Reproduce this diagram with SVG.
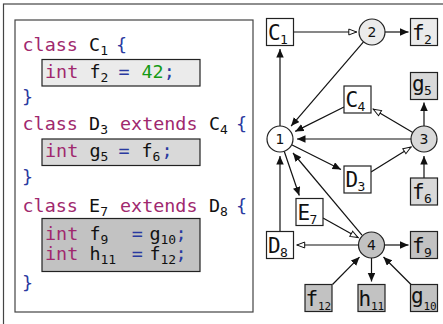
<svg xmlns="http://www.w3.org/2000/svg" width="443" height="324" viewBox="0 0 443 324">
<style>
.code{font-family:"DejaVu Sans Mono","Liberation Mono",monospace;font-size:18.4px;fill:#111}
.kw{fill:#a0286e}
.bl{fill:#2a3aa0}
.gr{fill:#159a15}
.sub{font-size:13px}
.frame{fill:none;stroke:#444;stroke-width:1.2}
.hl1{fill:#ebebeb;stroke:#222;stroke-width:1.2}
.hl2{fill:#d9d9d9;stroke:#222;stroke-width:1.2}
.hl3{fill:#c2c2c2;stroke:#222;stroke-width:1.2}
.box{stroke:#222;stroke-width:1.2}
.w{fill:#fff}
.lbl{font-family:"DejaVu Sans Mono","Liberation Mono",monospace;font-size:21px;fill:#111}
.lsub{font-size:13px}
.lsub2{font-size:11px}
.num{font-family:"DejaVu Sans","Liberation Sans",sans-serif;font-size:14px;fill:#111;text-anchor:middle}
.e{fill:none;stroke:#111;stroke-width:1.2}
.f{marker-end:url(#fa)}
.o{marker-end:url(#oa)}
</style>
<defs>
<marker id="fa" markerUnits="userSpaceOnUse" markerWidth="9" markerHeight="8" refX="8.5" refY="3.75" orient="auto">
<path d="M0,0 L8.5,3.75 L0,7.5 z" fill="#111"/>
</marker>
<marker id="oa" markerUnits="userSpaceOnUse" markerWidth="10" markerHeight="8" refX="9" refY="3.75" orient="auto">
<path d="M0.8,0.8 L8.6,3.75 L0.8,6.7 z" fill="#fff" stroke="#111" stroke-width="1"/>
</marker>
</defs>
<rect x="0" y="0" width="443" height="324" fill="#fff"/>
<rect class="frame" x="3.5" y="4" width="470" height="340" stroke="#555"/>

<g id="code">
<rect class="frame" x="15" y="20" width="238" height="292" stroke="#333"/>
<rect class="hl1" x="42" y="59.5" width="158" height="26.5"/>
<rect class="hl2" x="42" y="139" width="158" height="26.5"/>
<rect class="hl3" x="42" y="218.5" width="158" height="53"/>
<text class="code"><tspan class="kw" x="22.5" y="51">class</tspan><tspan x="89.1" y="51">C</tspan><tspan class="sub" x="100.2" y="55">1</tspan><tspan class="bl" x="116" y="51">{</tspan></text>
<text class="code"><tspan class="kw" x="45" y="77.5">int</tspan><tspan x="89.4" y="77.5">f</tspan><tspan class="sub" x="100.5" y="81.5">2</tspan><tspan class="bl" x="118.5" y="77.5">=</tspan><tspan class="gr" x="141.5" y="77.5">42</tspan><tspan class="bl" x="163.7" y="77.5">;</tspan></text>
<text class="code"><tspan class="bl" x="22" y="103">}</tspan></text>
<text class="code"><tspan class="kw" x="22.5" y="130">class</tspan><tspan x="89.1" y="130">D</tspan><tspan class="sub" x="100.2" y="134">3</tspan><tspan class="kw" x="120" y="130">extends</tspan><tspan x="209" y="130">C</tspan><tspan class="sub" x="220.1" y="134">4</tspan><tspan class="bl" x="236" y="130">{</tspan></text>
<text class="code"><tspan class="kw" x="45" y="157">int</tspan><tspan x="89.4" y="157">g</tspan><tspan class="sub" x="100.5" y="161">5</tspan><tspan class="bl" x="118.5" y="157">=</tspan><tspan x="141.5" y="157">f</tspan><tspan class="sub" x="152.6" y="161">6</tspan><tspan class="bl" x="161.5" y="157">;</tspan></text>
<text class="code"><tspan class="bl" x="22" y="183">}</tspan></text>
<text class="code"><tspan class="kw" x="22.5" y="211.5">class</tspan><tspan x="89.1" y="211.5">E</tspan><tspan class="sub" x="100.2" y="215.5">7</tspan><tspan class="kw" x="120" y="211.5">extends</tspan><tspan x="209" y="211.5">D</tspan><tspan class="sub" x="220.1" y="215.5">8</tspan><tspan class="bl" x="236" y="211.5">{</tspan></text>
<text class="code"><tspan class="kw" x="45" y="240">int</tspan><tspan x="89.4" y="240">f</tspan><tspan class="sub" x="100.5" y="244">9</tspan><tspan class="bl" x="131.8" y="240">=</tspan><tspan x="149.4" y="240">g</tspan><tspan class="sub" x="160.5" y="244">10</tspan><tspan class="bl" x="175.5" y="240">;</tspan></text>
<text class="code"><tspan class="kw" x="45" y="260">int</tspan><tspan x="89.4" y="260">h</tspan><tspan class="sub" x="100.5" y="264">11</tspan><tspan class="bl" x="131.8" y="260">=</tspan><tspan x="149.4" y="260">f</tspan><tspan class="sub" x="160.5" y="264">12</tspan><tspan class="bl" x="175.5" y="260">;</tspan></text>
<text class="code"><tspan class="bl" x="22" y="289">}</tspan></text>
</g>

<g id="connectors">
<line class="e o" x1="294" y1="32" x2="357" y2="32"/>
<line class="e f" x1="385" y1="32" x2="408.5" y2="32"/>
<line class="e f" x1="363.5" y1="41.9" x2="291.1" y2="126.1"/>
<line class="e f" x1="280" y1="126" x2="280" y2="49"/>
<line class="e f" x1="344" y1="107" x2="295.2" y2="131.4"/>
<line class="e o" x1="412.8" y1="132.4" x2="373" y2="109"/>
<line class="e f" x1="411" y1="139" x2="297" y2="139"/>
<line class="e f" x1="424" y1="126" x2="424" y2="102.5"/>
<line class="e f" x1="424" y1="178" x2="424" y2="156"/>
<line class="e o" x1="371" y1="172" x2="411.3" y2="146.9"/>
<line class="e f" x1="291.6" y1="144.8" x2="341" y2="169.5"/>
<line class="e f" x1="284.2" y1="151.3" x2="299.3" y2="195.5"/>
<line class="e f" x1="362" y1="235.2" x2="293" y2="153"/>
<line class="e o" x1="323" y1="218" x2="358.4" y2="237.8"/>
<line class="e o" x1="358.5" y1="245" x2="296.5" y2="245"/>
<line class="e f" x1="280" y1="231.5" x2="280" y2="156"/>
<line class="e f" x1="384.5" y1="245" x2="408.5" y2="245"/>
<line class="e f" x1="332.5" y1="284.5" x2="359.5" y2="257.1"/>
<line class="e f" x1="371.5" y1="258" x2="371.5" y2="281.5"/>
<line class="e f" x1="411" y1="284.5" x2="383.5" y2="257"/>
</g>

<g id="n1"><circle class="box w" cx="280" cy="139" r="13"/><text class="num" x="280" y="144">1</text></g>
<g id="n2"><circle class="hl1" cx="372" cy="32" r="13"/><text class="num" x="372" y="37">2</text></g>
<g id="n3"><circle class="hl2" cx="424" cy="139" r="13"/><text class="num" x="424" y="144">3</text></g>
<g id="n4"><circle class="hl3" cx="371.5" cy="245" r="13"/><text class="num" x="371.5" y="250">4</text></g>

<g id="C1"><rect class="box w" x="266.5" y="18.5" width="27" height="27"/><text class="lbl"><tspan x="268" y="39.5">C</tspan><tspan class="lsub" x="280" y="43.5">1</tspan></text></g>
<g id="f2"><rect class="hl1" x="410.5" y="18.5" width="27" height="27"/><text class="lbl"><tspan x="412" y="39.5">f</tspan><tspan class="lsub" x="424" y="43.5">2</tspan></text></g>
<g id="C4"><rect class="box w" x="344" y="86" width="27" height="27"/><text class="lbl"><tspan x="345.5" y="107">C</tspan><tspan class="lsub" x="357.5" y="111">4</tspan></text></g>
<g id="g5"><rect class="hl2" x="410.5" y="72.5" width="27" height="27"/><text class="lbl"><tspan x="412" y="91">g</tspan><tspan class="lsub" x="424" y="95">5</tspan></text></g>
<g id="D3"><rect class="box w" x="344" y="166" width="27" height="27"/><text class="lbl"><tspan x="345.5" y="187">D</tspan><tspan class="lsub" x="357.5" y="191">3</tspan></text></g>
<g id="f6"><rect class="hl2" x="410.5" y="178" width="27" height="27"/><text class="lbl"><tspan x="412" y="199">f</tspan><tspan class="lsub" x="424" y="203">6</tspan></text></g>
<g id="E7"><rect class="box w" x="296" y="198.5" width="27" height="27"/><text class="lbl"><tspan x="297.5" y="219.5">E</tspan><tspan class="lsub" x="309.5" y="223.5">7</tspan></text></g>
<g id="D8"><rect class="box w" x="266.5" y="231.5" width="27" height="27"/><text class="lbl"><tspan x="268" y="252.5">D</tspan><tspan class="lsub" x="280" y="256.5">8</tspan></text></g>
<g id="f9"><rect class="hl3" x="410.5" y="231.5" width="27" height="27"/><text class="lbl"><tspan x="412" y="252.5">f</tspan><tspan class="lsub" x="424" y="256.5">9</tspan></text></g>
<g id="f12"><rect class="hl3" x="305" y="284.5" width="27" height="27"/><text class="lbl"><tspan x="305.5" y="305.5">f</tspan><tspan class="lsub2" x="318" y="309.5">12</tspan></text></g>
<g id="h11"><rect class="hl3" x="358" y="284.5" width="27" height="27"/><text class="lbl"><tspan x="358.5" y="305.5">h</tspan><tspan class="lsub2" x="371" y="309.5">11</tspan></text></g>
<g id="g10"><rect class="hl3" x="410.5" y="284.5" width="27" height="27"/><text class="lbl"><tspan x="411" y="303">g</tspan><tspan class="lsub2" x="423.5" y="309.5">10</tspan></text></g>
</svg>
